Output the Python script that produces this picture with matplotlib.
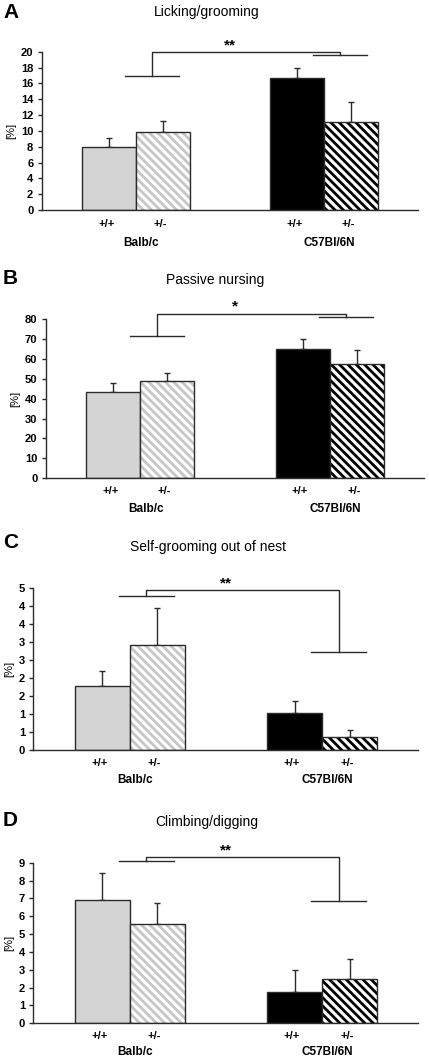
import matplotlib
matplotlib.use("Agg")
import matplotlib.pyplot as plt
import numpy as np

plt.rcParams['font.family'] = ['Liberation Sans', 'DejaVu Sans']
plt.rcParams['hatch.linewidth'] = 2.0

# data
groups = ['Balb/c', 'C57Bl/6N']
genotypes = ['+/+', '+/-']
letters = ['A', 'B', 'C', 'D']
titles = ['Licking/grooming', 'Passive nursing', 'Self-grooming out of nest', 'Climbing/digging']
stars = ['**', '*', '**', '**']

lick_mean = [8.0, 9.8, 16.7, 11.15]
lick_err = [1.05, 1.45, 1.25, 2.5]
nurse_mean = [43.5, 49.0, 64.9, 57.4]
nurse_err = [4.5, 3.9, 5.1, 7.0]
self_mean = [1.79, 2.91, 1.02, 0.36]
self_err = [0.41, 1.04, 0.33, 0.2]
climb_mean = [6.93, 5.58, 1.74, 2.5]
climb_err = [1.51, 1.18, 1.25, 1.1]

means = [lick_mean, nurse_mean, self_mean, climb_mean]
errs = [lick_err, nurse_err, self_err, climb_err]

yticks = [np.arange(0, 21, 2), np.arange(0, 81, 10), np.arange(0, 4.6, 0.5), np.arange(0, 10, 1)]
self_ticklabels = ['0', '1', '1', '2', '2', '3', '3', '4', '4', '5']
ytop = [20, 80, 4.5, 9]

# significance brackets: left group bar, right group bar, connecting line
sig_left = [16.9, 71.5, 4.29, 9.09]
sig_right = [19.58, 80.8, 2.72, 6.85]
sig_top = [19.9, 82.7, 4.44, 9.32]

W, H = 429, 1062
fig = plt.figure(figsize=(W / 100, H / 100), dpi=100)

# axes boxes in pixels: left, right, top, bottom
boxes = [(41.7, 418.0, 51.7, 210.0),
         (45.7, 424.4, 319.0, 478.3),
         (33.3, 418.3, 588.3, 750.0),
         (33.3, 418.3, 862.7, 1023.3)]
title_pos = [(207, 12), (215, 280), (208, 547), (207, 822)]
letter_pos = [(3, 13), (3, 278), (3, 543), (3, 820)]
geno_off = [14, 13, 13, 13]     # px below axis
group_off = [33, 31, 30, 29]

edge = '#2b2b2b'
light = '#d4d4d4'
hatch_gray = '#c6c6c6'
centers = [1.75, 5.25]
px = 0.72  # points per pixel at dpi 100

for i in range(4):
    l, r, t, b = boxes[i]
    ax = fig.add_axes([l / W, 1 - b / H, (r - l) / W, (b - t) / H])
    m, e = means[i], errs[i]
    x = [centers[0] - 0.5, centers[0] + 0.5, centers[1] - 0.5, centers[1] + 0.5]

    ax.errorbar(x, m, yerr=[np.zeros(4), e], fmt='none', ecolor=edge,
                elinewidth=1, capsize=2.5, capthick=1, zorder=1)
    # solid bars
    ax.bar([x[0], x[2]], [m[0], m[2]], 1.0, color=[light, 'black'],
           edgecolor=edge, linewidth=1, zorder=2)
    # hatched bars: hatch first, then outline
    ax.bar([x[1]], [m[1]], 1.0, color='white', edgecolor=hatch_gray,
           linewidth=0, hatch='\\\\\\\\', zorder=2)
    ax.bar([x[3]], [m[3]], 1.0, color='white', edgecolor='black',
           linewidth=0, hatch='\\\\\\\\', zorder=2)
    ax.bar([x[1], x[3]], [m[1], m[3]], 1.0, color='none',
           edgecolor=edge, linewidth=1, zorder=3)

    ax.set_xlim(0, 7)
    ax.set_ylim(0, ytop[i])
    ax.set_yticks(yticks[i])
    if i == 2:
        ax.set_yticklabels(self_ticklabels)
    else:
        ax.set_yticklabels([f'{v:g}' for v in yticks[i]])
    ax.tick_params(axis='y', length=3, width=1, color=edge, pad=3,
                   labelsize=8)
    for lab in ax.get_yticklabels():
        lab.set_fontweight('bold')
    ax.set_xticks([])
    for s in ['top', 'right']:
        ax.spines[s].set_visible(False)
    for s in ['left', 'bottom']:
        ax.spines[s].set_color(edge)
        ax.spines[s].set_linewidth(1)
    ax.set_ylabel('[%]', fontsize=8, labelpad=3)

    for k in range(4):
        ax.annotate(genotypes[k % 2], (x[k] - 0.05, 0), xycoords=('data', 'axes fraction'),
                    xytext=(0, -geno_off[i] * px), textcoords='offset points',
                    ha='center', va='center', fontsize=8, fontweight='bold')
    for g in range(2):
        ax.annotate(groups[g], (centers[g] + 0.1, 0), xycoords=('data', 'axes fraction'),
                    xytext=(0, -group_off[i] * px), textcoords='offset points',
                    ha='center', va='center', fontsize=8.5, fontweight='bold')

    # significance bracket
    lx, rx = centers[0] + 0.3, centers[1] + 0.3
    kw = dict(color=edge, lw=1, clip_on=False, zorder=4)
    ax.plot([lx - 0.5, lx + 0.5], [sig_left[i]] * 2, **kw)
    ax.plot([rx - 0.5, rx + 0.5], [sig_right[i]] * 2, **kw)
    ax.plot([lx, lx, rx, rx], [sig_left[i], sig_top[i], sig_top[i], sig_right[i]], **kw)
    ax.annotate(stars[i], (3.5, sig_top[i]), xytext=(0, 0), textcoords='offset points',
                ha='center', va='bottom', fontsize=11, fontweight='bold',
                annotation_clip=False)

    tx, ty = title_pos[i]
    fig.text(tx / W, 1 - ty / H, titles[i], ha='center', va='center', fontsize=10)
    lx0, ly0 = letter_pos[i]
    fig.text(lx0 / W, 1 - ly0 / H, letters[i], ha='left', va='center',
             fontsize=15, fontweight='bold')

fig.savefig('out.png', dpi=100)
